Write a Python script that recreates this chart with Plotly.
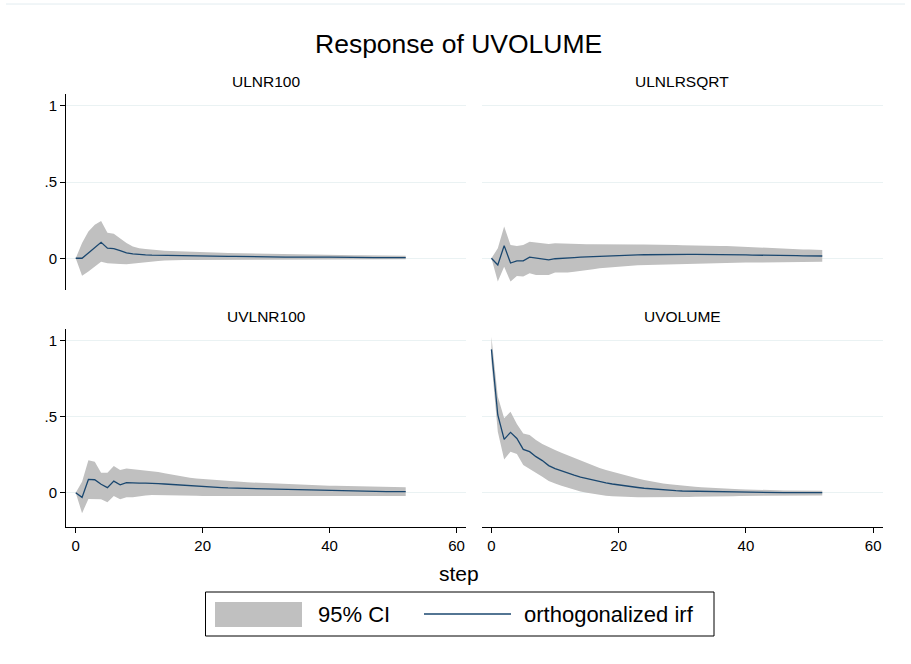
import plotly.graph_objects as go

W, H = 911, 664

steps = list(range(53))

panel_titles = ["ULNR100", "ULNLRSQRT", "UVLNR100", "UVOLUME"]
x_tick_vals = [0, 20, 40, 60]
x_tick_text = ["0", "20", "40", "60"]
y_tick_vals = [0, 0.5, 1]
y_tick_text = ["0", ".5", "1"]

# impulse: ULNR100 -> response: UVOLUME
irf_ulnr100 = [0.000, 0.000, 0.035, 0.070, 0.105, 0.066, 0.063, 0.050, 0.036, 0.029,
               0.024, 0.022, 0.020, 0.019, 0.018, 0.017, 0.017, 0.017, 0.017, 0.016,
               0.016, 0.015, 0.014, 0.013, 0.012, 0.012, 0.011, 0.011, 0.010, 0.009,
               0.009, 0.008, 0.008, 0.008, 0.008, 0.007, 0.007, 0.007, 0.007, 0.007,
               0.007, 0.006, 0.006, 0.006, 0.005, 0.004, 0.004, 0.004, 0.004, 0.004,
               0.004, 0.004, 0.004]
ub_ulnr100 = [0.000, 0.100, 0.175, 0.220, 0.245, 0.168, 0.160, 0.130, 0.100, 0.078,
              0.066, 0.060, 0.055, 0.052, 0.050, 0.048, 0.046, 0.044, 0.043, 0.041,
              0.040, 0.039, 0.037, 0.036, 0.035, 0.034, 0.033, 0.032, 0.031, 0.030,
              0.029, 0.028, 0.028, 0.027, 0.026, 0.025, 0.025, 0.024, 0.024, 0.023,
              0.022, 0.022, 0.021, 0.021, 0.020, 0.020, 0.019, 0.019, 0.018, 0.018,
              0.018, 0.017, 0.017]
lb_ulnr100 = [0.000, -0.114, -0.087, -0.055, -0.022, -0.033, -0.033, -0.037, -0.039, -0.033,
              -0.028, -0.025, -0.022, -0.018, -0.015, -0.013, -0.012, -0.012, -0.011, -0.011,
              -0.011, -0.010, -0.010, -0.010, -0.010, -0.010, -0.009, -0.009, -0.009, -0.009,
              -0.009, -0.009, -0.008, -0.008, -0.008, -0.008, -0.008, -0.008, -0.007, -0.007,
              -0.007, -0.007, -0.007, -0.007, -0.007, -0.007, -0.007, -0.007, -0.007, -0.007,
              -0.007, -0.007, -0.007]

# impulse: ULNLRSQRT
irf_ulnlrsqrt = [0.000, -0.044, 0.083, -0.031, -0.017, -0.017, 0.007, 0.000, -0.007, -0.011,
                 -0.003, -0.002, 0.002, 0.004, 0.007, 0.009, 0.012, 0.014, 0.016, 0.018,
                 0.019, 0.020, 0.021, 0.022, 0.023, 0.024, 0.025, 0.025, 0.026, 0.026,
                 0.026, 0.026, 0.026, 0.026, 0.026, 0.026, 0.026, 0.025, 0.025, 0.024,
                 0.022, 0.021, 0.021, 0.020, 0.018, 0.018, 0.017, 0.017, 0.017, 0.016,
                 0.016, 0.016, 0.015]
ub_ulnlrsqrt = [0.000, 0.066, 0.208, 0.087, 0.081, 0.087, 0.109, 0.103, 0.098, 0.094,
                0.098, 0.096, 0.094, 0.093, 0.093, 0.092, 0.092, 0.091, 0.091, 0.090,
                0.090, 0.090, 0.090, 0.090, 0.090, 0.090, 0.089, 0.088, 0.088, 0.087,
                0.085, 0.085, 0.084, 0.083, 0.082, 0.082, 0.081, 0.080, 0.078, 0.075,
                0.072, 0.070, 0.069, 0.068, 0.066, 0.065, 0.064, 0.062, 0.059, 0.058,
                0.057, 0.056, 0.055]
lb_ulnlrsqrt = [0.000, -0.153, -0.055, -0.153, -0.116, -0.120, -0.098, -0.109, -0.111, -0.109,
                -0.094, -0.094, -0.094, -0.088, -0.081, -0.076, -0.072, -0.066, -0.061, -0.058,
                -0.055, -0.052, -0.049, -0.046, -0.044, -0.042, -0.040, -0.038, -0.037, -0.036,
                -0.035, -0.034, -0.033, -0.032, -0.032, -0.031, -0.031, -0.030, -0.029, -0.029,
                -0.028, -0.028, -0.027, -0.027, -0.026, -0.026, -0.025, -0.025, -0.024, -0.024,
                -0.023, -0.023, -0.022]

# impulse: UVLNR100
irf_uvlnr100 = [0.000, -0.031, 0.087, 0.085, 0.055, 0.033, 0.076, 0.052, 0.066, 0.063,
                0.063, 0.063, 0.063, 0.060, 0.057, 0.054, 0.050, 0.047, 0.044, 0.041,
                0.037, 0.036, 0.034, 0.033, 0.031, 0.030, 0.028, 0.027, 0.026, 0.025,
                0.024, 0.023, 0.022, 0.020, 0.019, 0.017, 0.015, 0.015, 0.014, 0.014,
                0.013, 0.013, 0.012, 0.012, 0.011, 0.010, 0.010, 0.009, 0.007, 0.007,
                0.007, 0.007, 0.007]
ub_uvlnr100 = [0.000, 0.072, 0.214, 0.203, 0.131, 0.131, 0.175, 0.149, 0.159, 0.155,
               0.153, 0.149, 0.144, 0.136, 0.127, 0.119, 0.111, 0.104, 0.098, 0.094,
               0.090, 0.087, 0.083, 0.080, 0.076, 0.073, 0.071, 0.068, 0.066, 0.064,
               0.061, 0.059, 0.057, 0.055, 0.053, 0.052, 0.050, 0.049, 0.048, 0.047,
               0.046, 0.045, 0.044, 0.043, 0.042, 0.041, 0.040, 0.038, 0.037, 0.036,
               0.036, 0.035, 0.035]
lb_uvlnr100 = [0.000, -0.135, -0.042, -0.042, -0.044, -0.063, -0.022, -0.044, -0.031, -0.031,
               -0.024, -0.019, -0.015, -0.015, -0.015, -0.015, -0.015, -0.017, -0.019, -0.020,
               -0.022, -0.023, -0.024, -0.025, -0.026, -0.026, -0.026, -0.026, -0.026, -0.026,
               -0.026, -0.026, -0.026, -0.026, -0.025, -0.025, -0.025, -0.025, -0.024, -0.024,
               -0.024, -0.024, -0.024, -0.023, -0.023, -0.023, -0.023, -0.022, -0.022, -0.022,
               -0.022, -0.022, -0.022]

# impulse: UVOLUME (own shock)
irf_uvolume = [0.943, 0.511, 0.351, 0.397, 0.357, 0.285, 0.270, 0.237, 0.211, 0.178,
               0.158, 0.142, 0.127, 0.115, 0.103, 0.092, 0.081, 0.072, 0.064, 0.057,
               0.050, 0.044, 0.039, 0.034, 0.029, 0.025, 0.022, 0.018, 0.015, 0.013,
               0.011, 0.010, 0.009, 0.008, 0.007, 0.006, 0.005, 0.004, 0.003, 0.003,
               0.002, 0.002, 0.001, 0.001, 0.001, 0.000, 0.000, 0.000, 0.000, 0.000,
               0.000, 0.000, 0.000]
ub_uvolume = [1.026, 0.632, 0.489, 0.533, 0.452, 0.390, 0.379, 0.346, 0.320, 0.298,
              0.281, 0.263, 0.246, 0.228, 0.211, 0.194, 0.178, 0.163, 0.149, 0.137,
              0.125, 0.114, 0.103, 0.093, 0.083, 0.074, 0.066, 0.060, 0.055, 0.050,
              0.046, 0.042, 0.039, 0.036, 0.033, 0.031, 0.028, 0.026, 0.024, 0.022,
              0.021, 0.019, 0.018, 0.017, 0.016, 0.016, 0.015, 0.015, 0.014, 0.014,
              0.013, 0.013, 0.013]
lb_uvolume = [0.860, 0.401, 0.219, 0.270, 0.254, 0.182, 0.160, 0.132, 0.105, 0.077,
              0.061, 0.045, 0.029, 0.018, 0.007, -0.001, -0.009, -0.015, -0.020, -0.023,
              -0.026, -0.028, -0.029, -0.030, -0.031, -0.031, -0.031, -0.031, -0.031, -0.030,
              -0.029, -0.028, -0.027, -0.026, -0.025, -0.025, -0.024, -0.023, -0.023, -0.022,
              -0.022, -0.022, -0.021, -0.021, -0.021, -0.020, -0.020, -0.020, -0.019, -0.019,
              -0.019, -0.018, -0.018]

panels = [
    (irf_ulnr100, lb_ulnr100, ub_ulnr100),
    (irf_ulnlrsqrt, lb_ulnlrsqrt, ub_ulnlrsqrt),
    (irf_uvlnr100, lb_uvlnr100, ub_uvlnr100),
    (irf_uvolume, lb_uvolume, ub_uvolume),
]

CI_GRAY = "#C0C0C0"
NAVY = "#1A476F"
GRID = "#EAF2F3"
FONT = "Liberation Sans, Arial, Helvetica, sans-serif"


def px_x(p):
    return p / W


def px_y(p):
    return 1 - p / H


# panel boxes in pixels: (left, right, top, bottom)
boxes = [
    (66, 466, 94, 290),
    (481.7, 882.7, 94, 290),
    (66, 466, 329.3, 526.7),
    (481.7, 882.7, 329.3, 526.7),
]
y_ranges = [(-0.208, 1.077), (-0.208, 1.077), (-0.224, 1.075), (-0.224, 1.075)]
x_range = (-1.53, 61.5)

fig = go.Figure()

for i, (irf, lo, hi) in enumerate(panels):
    n = i + 1
    xa = "x" if n == 1 else f"x{n}"
    ya = "y" if n == 1 else f"y{n}"
    fig.add_trace(go.Scatter(
        x=steps + steps[::-1], y=hi + lo[::-1],
        fill="toself", fillcolor=CI_GRAY, mode="lines",
        line=dict(width=0, color=CI_GRAY),
        xaxis=xa, yaxis=ya, showlegend=False, hoverinfo="skip",
    ))
    fig.add_trace(go.Scatter(
        x=steps, y=irf, mode="lines",
        line=dict(color=NAVY, width=1.3),
        xaxis=xa, yaxis=ya, showlegend=False,
    ))

    left, right, top, bottom = boxes[i]
    show_x = i >= 2
    show_y = i % 2 == 0
    xkey = "xaxis" if n == 1 else f"xaxis{n}"
    ykey = "yaxis" if n == 1 else f"yaxis{n}"
    fig.update_layout(**{
        xkey: dict(
            domain=[px_x(left), px_x(right)], range=list(x_range),
            anchor=ya, showgrid=False, zeroline=False,
            showline=show_x, linecolor="#000000", linewidth=1,
            ticks="outside" if show_x else "", ticklen=5, tickcolor="#000000",
            tickvals=x_tick_vals, ticktext=x_tick_text,
            showticklabels=show_x,
            tickfont=dict(family=FONT, size=15, color="#000000"),
        ),
        ykey: dict(
            domain=[px_y(bottom), px_y(top)], range=list(y_ranges[i]),
            anchor=xa, showgrid=True, gridcolor=GRID, gridwidth=1,
            zeroline=False,
            showline=show_y, linecolor="#000000", linewidth=1,
            ticks="outside" if show_y else "", ticklen=5, tickcolor="#000000",
            tickvals=y_tick_vals, ticktext=y_tick_text,
            showticklabels=show_y,
            tickfont=dict(family=FONT, size=15, color="#000000"),
        ),
    })

annotations = []
for i, name in enumerate(panel_titles):
    left, right, top, bottom = boxes[i]
    annotations.append(dict(
        text=name, x=px_x((left + right) / 2), y=px_y(top - 2),
        xref="paper", yref="paper", xanchor="center", yanchor="bottom",
        showarrow=False, font=dict(family=FONT, size=15.5, color="#000000"),
    ))

annotations.append(dict(
    text="Response of UVOLUME", x=px_x(459), y=px_y(44),
    xref="paper", yref="paper", xanchor="center", yanchor="middle",
    showarrow=False, font=dict(family=FONT, size=26.5, color="#000000"),
))
annotations.append(dict(
    text="step", x=px_x(459), y=px_y(573),
    xref="paper", yref="paper", xanchor="center", yanchor="middle",
    showarrow=False, font=dict(family=FONT, size=21, color="#000000"),
))

# legend
annotations.append(dict(
    text="95% CI", x=px_x(316), y=px_y(614.5),
    xref="paper", yref="paper", xanchor="left", yanchor="middle",
    showarrow=False, font=dict(family=FONT, size=22, color="#000000"),
))
annotations.append(dict(
    text="orthogonalized irf", x=px_x(522), y=px_y(614.5),
    xref="paper", yref="paper", xanchor="left", yanchor="middle",
    showarrow=False, font=dict(family=FONT, size=22, color="#000000"),
))

shapes = [
    # thin frame rule along the top of the graph region
    dict(type="line", xref="paper", yref="paper",
         x0=px_x(6), x1=px_x(905), y0=px_y(4), y1=px_y(4),
         line=dict(color="#E2ECF0", width=1)),
    # legend box
    dict(type="rect", xref="paper", yref="paper",
         x0=px_x(205.5), x1=px_x(714), y0=px_y(636), y1=px_y(592),
         line=dict(color="#000000", width=1), fillcolor="rgba(0,0,0,0)"),
    dict(type="rect", xref="paper", yref="paper",
         x0=px_x(215), x1=px_x(302), y0=px_y(627), y1=px_y(602),
         line=dict(width=0), fillcolor=CI_GRAY),
    dict(type="line", xref="paper", yref="paper",
         x0=px_x(424), x1=px_x(511), y0=px_y(614), y1=px_y(614),
         line=dict(color=NAVY, width=1.5)),
]

fig.update_layout(
    width=W, height=H,
    margin=dict(l=0, r=0, t=0, b=0),
    paper_bgcolor="#FFFFFF", plot_bgcolor="#FFFFFF",
    showlegend=False,
    annotations=annotations, shapes=shapes,
    font=dict(family=FONT, color="#000000"),
)

fig.write_html("out.html")
